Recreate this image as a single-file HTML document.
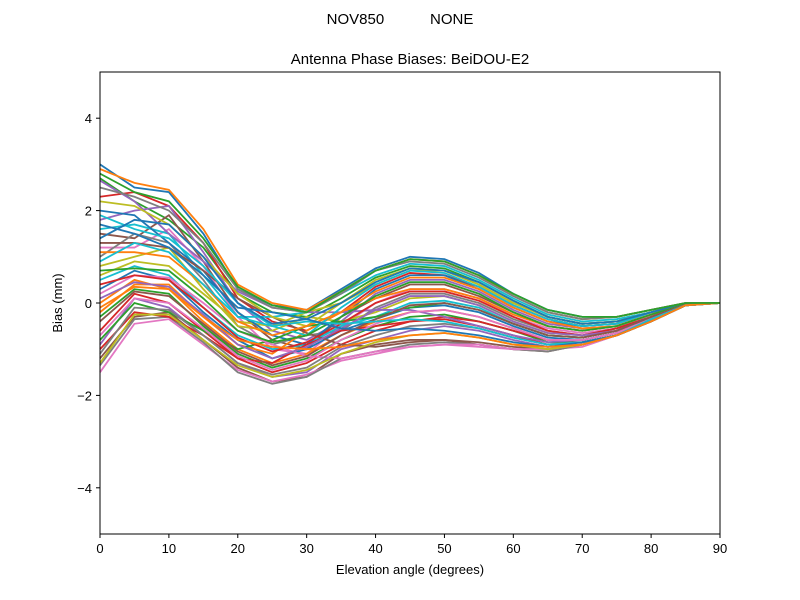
<!DOCTYPE html>
<html><head><meta charset="utf-8"><style>
body{margin:0;background:#fff;}
svg{display:block;font-family:"Liberation Sans","DejaVu Sans",sans-serif;}
</style></head><body>
<svg id="chart" width="800" height="600">
<text x="400" y="24" font-size="15" text-anchor="middle" xml:space="preserve">NOV850           NONE</text>
<text x="410" y="64" font-size="15" text-anchor="middle">Antenna Phase Biases: BeiDOU-E2</text>
<g id="lines"></g>
<rect x="100" y="72" width="620" height="462" fill="none" stroke="#000" stroke-width="1"/>
<g id="xticks"></g>
<g id="yticks"></g>
<text x="410" y="574" font-size="13" text-anchor="middle">Elevation angle (degrees)</text>
<text x="0" y="0" font-size="13" text-anchor="middle" transform="translate(62,303) rotate(-90)">Bias (mm)</text>
</svg>
<script>
const elevations=[0,5,10,15,20,25,30,35,40,45,50,55,60,65,70,75,80,85,90];
const xTicks=[0,10,20,30,40,50,60,70,80,90];
const yTicks=[-4,-2,0,2,4];
const series=[
[3.0,2.5,2.4,1.5,0.3,-0.05,-0.15,0.3,0.75,1.0,0.95,0.65,0.2,-0.15,-0.3,-0.3,-0.15,0,0],
[2.9,2.6,2.45,1.6,0.4,0,-0.15,0.25,0.7,0.95,0.9,0.6,0.15,-0.2,-0.35,-0.3,-0.15,0,0],
[2.7,2.2,1.8,1.2,0.2,-0.2,-0.3,0.1,0.55,0.8,0.75,0.45,0.05,-0.3,-0.45,-0.4,-0.2,-0.02,0],
[2.3,2.4,2.1,1.3,0.1,-0.4,-0.6,-0.2,0.35,0.65,0.6,0.35,-0.05,-0.35,-0.5,-0.45,-0.2,-0.02,0],
[1.8,2.0,2.1,1.1,0,-0.6,-0.8,-0.4,0.2,0.5,0.5,0.25,-0.15,-0.45,-0.55,-0.5,-0.25,-0.03,0],
[1.5,1.4,1.9,0.9,-0.2,-0.8,-1.0,-0.3,0.1,0.4,0.4,0.15,-0.2,-0.5,-0.6,-0.5,-0.25,-0.03,0],
[1.2,1.2,1.6,0.8,-0.3,-1.0,-1.1,-0.5,0,0.3,0.3,0.1,-0.3,-0.55,-0.65,-0.55,-0.25,-0.03,0],
[1.0,1.5,1.3,0.5,-0.5,-0.9,-0.7,-0.6,-0.1,0.2,0.2,0,-0.35,-0.6,-0.7,-0.55,-0.3,-0.03,0],
[0.8,1.0,1.2,0.3,-0.5,-0.6,-0.3,-0.4,-0.2,0.1,0.15,-0.05,-0.4,-0.65,-0.7,-0.6,-0.3,-0.04,0],
[0.5,0.8,0.6,-0.1,-0.7,-1.0,-0.9,-0.5,-0.3,0,0.05,-0.1,-0.45,-0.7,-0.75,-0.6,-0.3,-0.04,0],
[0.3,0.7,0.5,-0.2,-0.8,-1.2,-1.0,-0.6,-0.35,-0.1,-0.05,-0.2,-0.5,-0.75,-0.8,-0.65,-0.35,-0.05,0],
[0,0.5,0.3,-0.4,-1.0,-1.3,-1.1,-0.7,-0.4,-0.2,-0.15,-0.3,-0.55,-0.8,-0.8,-0.65,-0.35,-0.05,0],
[-0.3,0.3,0.2,-0.5,-1.1,-1.4,-1.2,-0.8,-0.5,-0.3,-0.25,-0.4,-0.6,-0.85,-0.85,-0.7,-0.35,-0.05,0],
[-0.6,0.2,0,-0.6,-1.2,-1.5,-1.3,-0.9,-0.6,-0.4,-0.35,-0.5,-0.7,-0.9,-0.85,-0.7,-0.4,-0.05,0],
[-0.9,0.1,-0.1,-0.7,-1.3,-1.6,-1.5,-1.0,-0.8,-0.6,-0.5,-0.6,-0.8,-0.95,-0.9,-0.7,-0.4,-0.05,0],
[-1.2,-0.3,-0.2,-0.8,-1.4,-1.7,-1.6,-1.1,-0.9,-0.8,-0.8,-0.9,-1.0,-1.05,-0.9,-0.7,-0.4,-0.05,0],
[-1.5,-0.45,-0.35,-0.9,-1.45,-1.7,-1.55,-1.25,-1.1,-0.95,-0.9,-0.95,-1.0,-1.0,-0.95,-0.7,-0.4,-0.05,0],
[-1.35,-0.35,-0.3,-0.85,-1.5,-1.75,-1.6,-1.2,-1.05,-0.9,-0.85,-0.9,-1.0,-1.05,-0.9,-0.7,-0.4,-0.05,0],
[0.6,0.9,0.8,0.2,-0.4,-0.5,-0.2,0,0.4,0.7,0.7,0.4,0,-0.3,-0.45,-0.4,-0.2,-0.02,0],
[1.6,1.7,1.5,0.6,-0.3,-0.3,-0.2,0.2,0.6,0.85,0.8,0.5,0.1,-0.25,-0.4,-0.35,-0.2,-0.02,0],
[2.0,1.9,1.3,0.7,-0.2,-0.7,-0.9,-0.3,0.3,0.6,0.6,0.3,-0.1,-0.4,-0.5,-0.45,-0.2,-0.02,0],
[-0.2,0.4,0.4,-0.3,-0.9,-1.1,-0.6,-0.2,0.1,0.3,0.3,0.1,-0.25,-0.5,-0.6,-0.5,-0.25,-0.03,0],
[-0.8,0,-0.2,-0.6,-1.0,-0.8,-0.5,-0.4,-0.3,-0.1,0,-0.15,-0.45,-0.7,-0.75,-0.6,-0.3,-0.04,0],
[-1.0,-0.2,-0.3,-0.7,-1.2,-1.3,-0.9,-0.6,-0.5,-0.4,-0.3,-0.4,-0.6,-0.8,-0.8,-0.65,-0.35,-0.05,0],
[2.65,2.2,1.5,0.9,0.25,-0.1,-0.2,-0.2,-0.15,-0.15,-0.3,-0.5,-0.7,-0.85,-0.8,-0.65,-0.35,-0.05,0],
[1.3,1.3,1.2,0.7,0.1,-0.3,-0.65,-0.9,-0.95,-0.85,-0.8,-0.85,-0.95,-1.0,-0.9,-0.7,-0.4,-0.05,0],
[0.2,0.6,0.55,0,-0.6,-0.9,-1.15,-1.2,-1.05,-0.95,-0.9,-0.9,-1.0,-1.0,-0.9,-0.7,-0.4,-0.05,0],
[2.5,2.3,2.0,1.3,0.3,-0.1,-0.2,0.2,0.7,0.9,0.85,0.55,0.15,-0.2,-0.35,-0.3,-0.15,0,0],
[2.2,2.1,1.7,1.0,0.2,-0.3,-0.5,0,0.5,0.75,0.7,0.4,0,-0.3,-0.45,-0.4,-0.2,-0.02,0],
[1.9,1.6,1.4,0.8,0,-0.5,-0.7,-0.1,0.4,0.7,0.65,0.35,-0.05,-0.35,-0.5,-0.45,-0.2,-0.02,0],
[1.4,1.8,1.7,1.0,0,-0.45,-0.35,0,0.45,0.75,0.7,0.45,0.05,-0.3,-0.45,-0.4,-0.2,-0.02,0],
[1.1,1.1,1.0,0.4,-0.4,-0.7,-0.5,-0.2,0.25,0.55,0.55,0.3,-0.1,-0.4,-0.55,-0.5,-0.25,-0.03,0],
[0.7,0.75,0.7,0.1,-0.6,-0.85,-0.7,-0.3,0.15,0.45,0.45,0.2,-0.2,-0.5,-0.6,-0.5,-0.25,-0.03,0],
[0.4,0.6,0.5,-0.1,-0.75,-1.05,-0.85,-0.45,0,0.25,0.25,0.05,-0.3,-0.6,-0.7,-0.55,-0.3,-0.04,0],
[0.1,0.45,0.35,-0.25,-0.9,-1.2,-0.95,-0.55,-0.15,0.15,0.15,-0.05,-0.4,-0.65,-0.7,-0.6,-0.3,-0.04,0],
[-0.4,0.25,0.15,-0.45,-1.05,-1.35,-1.15,-0.7,-0.35,-0.05,0,-0.15,-0.45,-0.7,-0.75,-0.6,-0.3,-0.04,0],
[-0.7,0.1,0,-0.55,-1.15,-1.45,-1.25,-0.8,-0.45,-0.2,-0.15,-0.3,-0.55,-0.8,-0.8,-0.65,-0.35,-0.05,0],
[-1.1,-0.1,-0.15,-0.7,-1.3,-1.55,-1.4,-0.95,-0.7,-0.5,-0.45,-0.55,-0.75,-0.9,-0.85,-0.7,-0.4,-0.05,0],
[-1.3,-0.25,-0.25,-0.8,-1.35,-1.6,-1.45,-1.1,-0.85,-0.7,-0.65,-0.75,-0.9,-1.0,-0.9,-0.7,-0.4,-0.05,0],
[0.9,1.3,1.1,0.4,-0.3,-0.5,-0.4,-0.45,-0.4,-0.35,-0.4,-0.55,-0.75,-0.9,-0.85,-0.7,-0.35,-0.05,0],
[1.7,1.5,1.2,0.6,-0.1,-0.2,-0.35,-0.55,-0.6,-0.55,-0.6,-0.7,-0.85,-0.95,-0.85,-0.7,-0.4,-0.05,0],
[-0.1,0.35,0.3,-0.3,-0.8,-0.95,-1.0,-0.95,-0.8,-0.7,-0.65,-0.75,-0.9,-0.95,-0.9,-0.7,-0.4,-0.05,0],
[2.8,2.4,2.2,1.4,0.35,-0.05,-0.2,0.25,0.7,0.95,0.9,0.6,0.2,-0.15,-0.3,-0.3,-0.15,0,0]
];
const colors=["#1f77b4","#ff7f0e","#2ca02c","#d62728","#9467bd","#8c564b","#e377c2","#7f7f7f","#bcbd22","#17becf"];
const NS="http://www.w3.org/2000/svg";
function xs(v){return 100+(v-0)/90*620;}
function ys(v){return 303-v*46.2;}
const lg=document.getElementById('lines');
series.forEach((s,i)=>{
  const p=document.createElementNS(NS,'polyline');
  p.setAttribute('points',s.map((v,j)=>xs(elevations[j])+','+ys(v)).join(' '));
  p.setAttribute('fill','none');
  p.setAttribute('stroke',colors[i%10]);
  p.setAttribute('stroke-width','1.8');
  
  
  lg.appendChild(p);
});
const xg=document.getElementById('xticks');
xTicks.forEach(t=>{
  const l=document.createElementNS(NS,'line');
  l.setAttribute('x1',xs(t));l.setAttribute('x2',xs(t));l.setAttribute('y1',534);l.setAttribute('y2',538);l.setAttribute('stroke','#000');
  
  
  xg.appendChild(l);
  const tx=document.createElementNS(NS,'text');
  tx.setAttribute('x',xs(t));tx.setAttribute('y',553);tx.setAttribute('font-size','13');tx.setAttribute('text-anchor','middle');
  tx.textContent=t;
  
  
  xg.appendChild(tx);
});
const yg=document.getElementById('yticks');
yTicks.forEach(t=>{
  const l=document.createElementNS(NS,'line');
  l.setAttribute('x1',96);l.setAttribute('x2',100);l.setAttribute('y1',ys(t));l.setAttribute('y2',ys(t));l.setAttribute('stroke','#000');
  
  
  yg.appendChild(l);
  const tx=document.createElementNS(NS,'text');
  tx.setAttribute('x',92);tx.setAttribute('y',ys(t)+5);tx.setAttribute('font-size','13');tx.setAttribute('text-anchor','end');
  tx.textContent=t<0?'\u2212'+Math.abs(t):String(t);
  
  
  yg.appendChild(tx);
});
</script>
</body></html>
